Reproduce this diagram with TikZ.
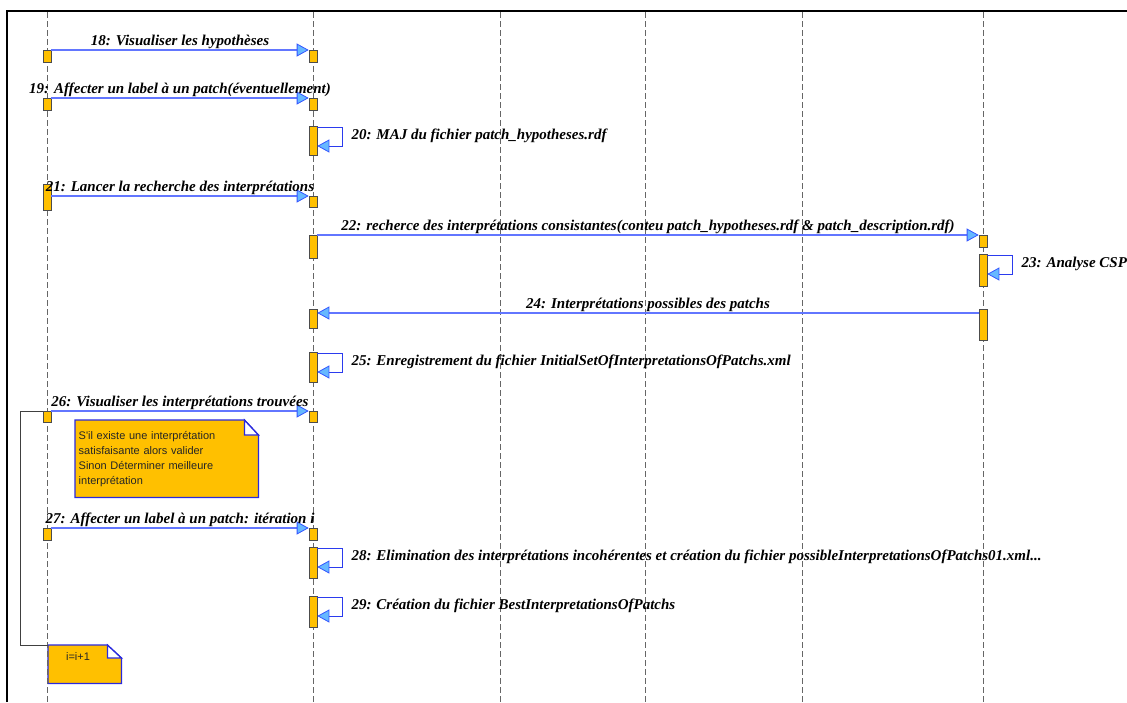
\documentclass[tikz,border=0pt]{standalone}
\usepackage{fontspec}
\setmainfont{Liberation Serif}
\newfontfamily\notefont{Liberation Sans}
\usetikzlibrary{arrows.meta,positioning,calc,backgrounds}
\definecolor{actgold}{HTML}{FFC000}
\definecolor{msgblue}{HTML}{6276FF}
\definecolor{tipfill}{HTML}{66B8FF}
\definecolor{tipline}{HTML}{3355FF}
\definecolor{loopblue}{HTML}{2B3BEE}
\definecolor{notebord}{HTML}{2A2ADD}
\newcommand{\msgfont}{\fontsize{15}{17}\selectfont\bfseries\itshape}

\begin{document}
\begin{tikzpicture}[x=1pt, y=-1pt,
  lifeline/.style={black!60, line width=0.7pt, dash pattern=on 6pt off 3pt},
  actbox/.style={draw=black!70, fill=actgold, line width=0.6pt, minimum width=8pt, inner sep=0pt, anchor=north},
  msg/.style={msgblue, line width=1.2pt, -{Triangle[length=12pt, width=13pt, color=tipline, fill=tipfill, line width=0.8pt]}},
  selfmsg/.style={loopblue, line width=1pt, -{Triangle[length=12pt, width=13pt, color=tipline, fill=tipfill, line width=0.8pt]}},
  msglabel/.style={font=\msgfont, text=black, inner sep=1pt, above},
  selflabel/.style={font=\msgfont, text=black, anchor=west, inner sep=0pt},
  notebox/.style={fill=actgold, draw=notebord, line width=1.3pt},
  notetext/.style={font=\notefont\fontsize{11}{15}\selectfont, text=black!85, align=left},
  iterline/.style={black!75, line width=0.8pt}]
\useasboundingbox (0,0) rectangle (1127,702);

% frame
\draw[line width=2pt] (7,702) -- (7,11) -- (1127,11);

% lifelines
\foreach \x/\n in {47/A,313/B,500/C,645/D,802/E,983/F} {
    \coordinate (ll\n) at (\x,12);
    \draw[lifeline] (ll\n) -- (\x,702);
}

% activation boxes: name/x/top/height
\foreach \n/\x/\y/\h in {a18/47/50/12, b18/313/50/12, a19/47/98/12, b19/313/98/12,
    b20/313/126/29, a21/47/184/26, b21/313/196/11, b22/313/235/23, f22/983/235/12,
    f23/983/254/32, b24/313/309/19, f24/983/309/31, b25/313/352/30,
    a26/47/411/11, b26/313/411/11, a27/47/528/12, b27/313/528/12,
    b28/313/547/31, b29/313/596/31} {
    \node[actbox, minimum height=\h pt] (\n) at (\x,\y) {};
}

% messages
\draw[msg] (a18.north east) -- (b18.north west) node[msglabel, midway] {18: Visualiser les hypothèses};
\draw[msg] (a19.north east) -- (b19.north west) node[msglabel, midway] {19: Affecter un label à un patch(éventuellement)};
\draw[msg] (a21.east |- b21.north) -- (b21.north west) node[msglabel, midway] {21: Lancer la recherche des interprétations};
\draw[msg] (b22.north east) -- (f22.north west) node[msglabel, midway] {22: recherce des interprétations consistantes(conteu patch\_hypotheses.rdf \& patch\_description.rdf)};
\draw[msg] ([yshift=-4pt]f24.north west) -- ([yshift=-4pt]b24.north east) node[msglabel, midway] {24: Interprétations possibles des patchs};
\draw[msg] (a26.north east) -- (b26.north west) node[msglabel, midway] {26: Visualiser les interprétations trouvées};
\draw[msg] (a27.north east) -- (b27.north west) node[msglabel, midway] {27: Affecter un label à un patch: itération i};

% self messages
\foreach \b/\t in {b20/{20: MAJ du fichier patch\_hypotheses.rdf},
    f23/{23: Analyse CSP},
    b25/{25: Enregistrement du fichier InitialSetOfInterpretationsOfPatchs.xml},
    b28/{28: Elimination des interprétations incohérentes et création du fichier possibleInterpretationsOfPatchs01.xml...},
    b29/{29: Création du fichier BestInterpretationsOfPatchs}} {
    \draw[selfmsg] ([yshift=-1pt]\b.north east) -- ++(25,0) |- ([yshift=-20pt]\b.north east);
    \node[selflabel] (l\b) at ([xshift=34pt, yshift=-10pt]\b.north east) {\t};
}

% notes
\node[notetext, text width=176pt, inner xsep=3.5pt, minimum height=77pt, anchor=north west] (n1) at (75,420)
    {S'il existe une interprétation\\satisfaisante alors valider\\Sinon Déterminer meilleure\\interprétation};
\node[notetext, minimum width=73pt, minimum height=38pt, inner sep=0pt, anchor=north west] (n2) at (48,645) {};
\node[notetext] (n2t) at (78,657) {i=i+1};
\begin{scope}[on background layer]
    \draw[notebox] (n1.north west) -- ([xshift=-14pt]n1.north east) -- ([yshift=-15pt]n1.north east) -- (n1.south east) -- (n1.south west) -- cycle;
    \draw[notebox, fill=white] ([xshift=-14pt]n1.north east) |- ([yshift=-15pt]n1.north east) -- cycle;
    \draw[notebox] (n2.north west) -- ([xshift=-14pt]n2.north east) -- ([yshift=-13pt]n2.north east) -- (n2.south east) -- (n2.south west) -- cycle;
    \draw[notebox, fill=white] ([xshift=-14pt]n2.north east) |- ([yshift=-13pt]n2.north east) -- cycle;
\end{scope}

% iteration loop
\draw[iterline] (a26.north west) -- ++(-22,0) |- (n2.north west);
\end{tikzpicture}
\end{document}
